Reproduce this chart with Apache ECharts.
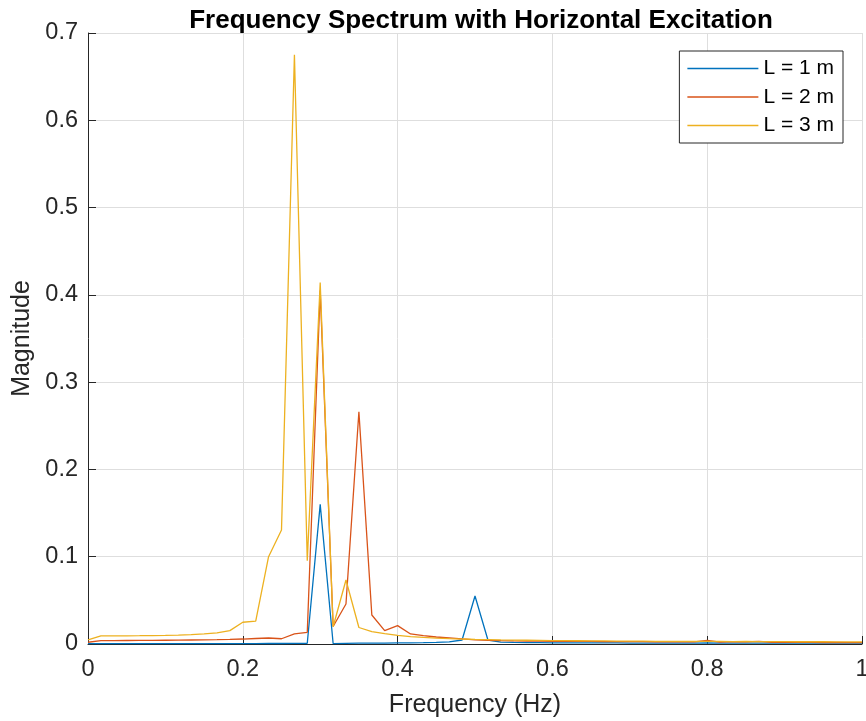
<!DOCTYPE html>
<html>
<head>
<meta charset="utf-8">
<script src="https://cdn.jsdelivr.net/npm/echarts@6/dist/echarts.min.js"></script>
<style>
html,body{margin:0;padding:0;background:#fff;}
#chart{width:866px;height:721px;}
</style>
</head>
<body>
<div id="chart"></div>
<script>
const freq = [0, 0.0167, 0.0333, 0.05, 0.0667, 0.0833, 0.1, 0.1167, 0.1333, 0.15,
  0.1667, 0.1833, 0.2, 0.2167, 0.2333, 0.25, 0.2667, 0.2833, 0.3, 0.3167,
  0.3333, 0.35, 0.3667, 0.3833, 0.4, 0.4167, 0.4333, 0.45, 0.4667, 0.4833,
  0.5, 0.5167, 0.5333, 0.55, 0.5667, 0.5833, 0.6, 0.6167, 0.6333, 0.65,
  0.6667, 0.6833, 0.7, 0.7167, 0.7333, 0.75, 0.7667, 0.7833, 0.8, 0.8167,
  0.8333, 0.85, 0.8667, 0.8833, 0.9, 0.9167, 0.9333, 0.95, 0.9667, 0.9833, 1];

const magL1 = [0.0005, 0.0005, 0.0005, 0.0005, 0.0005, 0.0005, 0.0005, 0.0005, 0.0005, 0.0005,
  0.0005, 0.0005, 0.0005, 0.0005, 0.0006, 0.0006, 0.0007, 0.0008, 0.160, 0.0005,
  0.0008, 0.0009, 0.0010, 0.0011, 0.0012, 0.0013, 0.0015, 0.0018, 0.0025, 0.0046,
  0.055, 0.0046, 0.0022, 0.0018, 0.0016, 0.0015, 0.0014, 0.0013, 0.0013, 0.0012,
  0.0012, 0.0012, 0.0011, 0.0011, 0.0011, 0.0011, 0.0010, 0.0010, 0.0012, 0.0010,
  0.0010, 0.0010, 0.0010, 0.0009, 0.0009, 0.0009, 0.0009, 0.0009, 0.0009, 0.0009, 0.0009];

const magL2 = [0.0020, 0.0038, 0.0039, 0.0040, 0.0041, 0.0042, 0.0043, 0.0044, 0.0046, 0.0048,
  0.0050, 0.0053, 0.0057, 0.0063, 0.0069, 0.0060, 0.0115, 0.0134, 0.405, 0.0200,
  0.0458, 0.266, 0.0332, 0.0153, 0.0210, 0.0115, 0.0095, 0.0080, 0.0070, 0.0058,
  0.0048, 0.0042, 0.0038, 0.0035, 0.0033, 0.0032, 0.0031, 0.0030, 0.0029, 0.0029,
  0.0028, 0.0028, 0.0027, 0.0027, 0.0026, 0.0026, 0.0025, 0.0025, 0.0040, 0.0022,
  0.0028, 0.0025, 0.0031, 0.0020, 0.0019, 0.0018, 0.0018, 0.0017, 0.0017, 0.0016, 0.0016];

const magL3 = [0.0046, 0.0092, 0.0093, 0.0094, 0.0095, 0.0097, 0.0099, 0.0102, 0.0107, 0.0115,
  0.0128, 0.0153, 0.0249, 0.0263, 0.100, 0.1306, 0.675, 0.0954, 0.414, 0.0198,
  0.0733, 0.0189, 0.0141, 0.0118, 0.0098, 0.0085, 0.0076, 0.0068, 0.0062, 0.0057,
  0.0053, 0.0050, 0.0047, 0.0045, 0.0043, 0.0041, 0.0039, 0.0038, 0.0037, 0.0036,
  0.0035, 0.0034, 0.0033, 0.0032, 0.0031, 0.0030, 0.0030, 0.0031, 0.0029, 0.0029,
  0.0028, 0.0030, 0.0028, 0.0027, 0.0027, 0.0026, 0.0026, 0.0026, 0.0025, 0.0025, 0.0025];

const seriesNames = ['L = 1 m', 'L = 2 m', 'L = 3 m'];
const xTicks = [0, 0.2, 0.4, 0.6, 0.8, 1];
const yTicks = [0, 0.1, 0.2, 0.3, 0.4, 0.5, 0.6, 0.7];

const colors = ['#0072BD', '#D95319', '#EDB120'];
const axisColor = '#262626';
const font = '"Liberation Sans", Arial, Helvetica, sans-serif';

function pairs(ys) { return freq.map((f, i) => [f, ys[i]]); }

const chart = echarts.init(document.getElementById('chart'), null, {renderer: 'canvas'});
const fmt = v => String(Math.round(v * 10) / 10);

chart.setOption({
  animation: false,
  backgroundColor: '#ffffff',
  color: colors,
  title: {
    text: 'Frequency Spectrum with Horizontal Excitation',
    left: 476,
    textAlign: 'center',
    top: 3,
    textStyle: {fontFamily: font, fontWeight: 'bold', fontSize: 26, color: '#000'}
  },
  legend: {
    orient: 'vertical',
    right: 23,
    top: 51,
    data: seriesNames,
    icon: 'rect',
    itemWidth: 71,
    itemHeight: 1.3,
    itemGap: 7.5,
    padding: [7, 9, 7, 8],
    borderColor: axisColor,
    borderWidth: 1,
    backgroundColor: '#ffffff',
    textStyle: {fontFamily: font, fontSize: 21, color: '#000', padding: [0, 0, 0, 0]}
  },
  grid: {left: 88, right: 4, top: 33, bottom: 77, containLabel: false, outerBoundsMode: 'none'},
  xAxis: {
    type: 'value',
    min: 0, max: 1, interval: 0.2,
    name: 'Frequency (Hz)',
    nameLocation: 'middle',
    nameGap: 49,
    nameTextStyle: {fontFamily: font, fontSize: 25, color: axisColor},
    axisLine: {show: true, onZero: false, lineStyle: {color: axisColor, width: 1}},
    axisTick: {show: true, inside: true, length: 8, lineStyle: {color: axisColor}},
    axisLabel: {fontFamily: font, fontSize: 23.5, color: axisColor, margin: 14, formatter: fmt,
      showMinLabel: true, showMaxLabel: true},
    splitLine: {show: true, lineStyle: {color: '#dedede', width: 1}}
  },
  yAxis: {
    type: 'value',
    min: 0, max: 0.7, interval: 0.1,
    name: 'Magnitude',
    nameLocation: 'middle',
    nameGap: 51,
    nameTextStyle: {fontFamily: font, fontSize: 25, color: axisColor},
    axisLine: {show: true, lineStyle: {color: axisColor, width: 1}},
    axisTick: {show: true, inside: true, length: 8, lineStyle: {color: axisColor}},
    axisLabel: {fontFamily: font, fontSize: 23.5, color: axisColor, margin: 10, formatter: fmt},
    splitLine: {show: true, lineStyle: {color: '#dedede', width: 1}}
  },
  series: [magL1, magL2, magL3].map((ys, i) => ({
    name: seriesNames[i],
    type: 'line',
    data: pairs(ys),
    showSymbol: false,
    symbol: 'none',
    lineStyle: {width: 1.3, color: colors[i]},
    itemStyle: {color: colors[i]},
    emphasis: {disabled: true},
    clip: true
  }))
});
</script>
</body>
</html>
